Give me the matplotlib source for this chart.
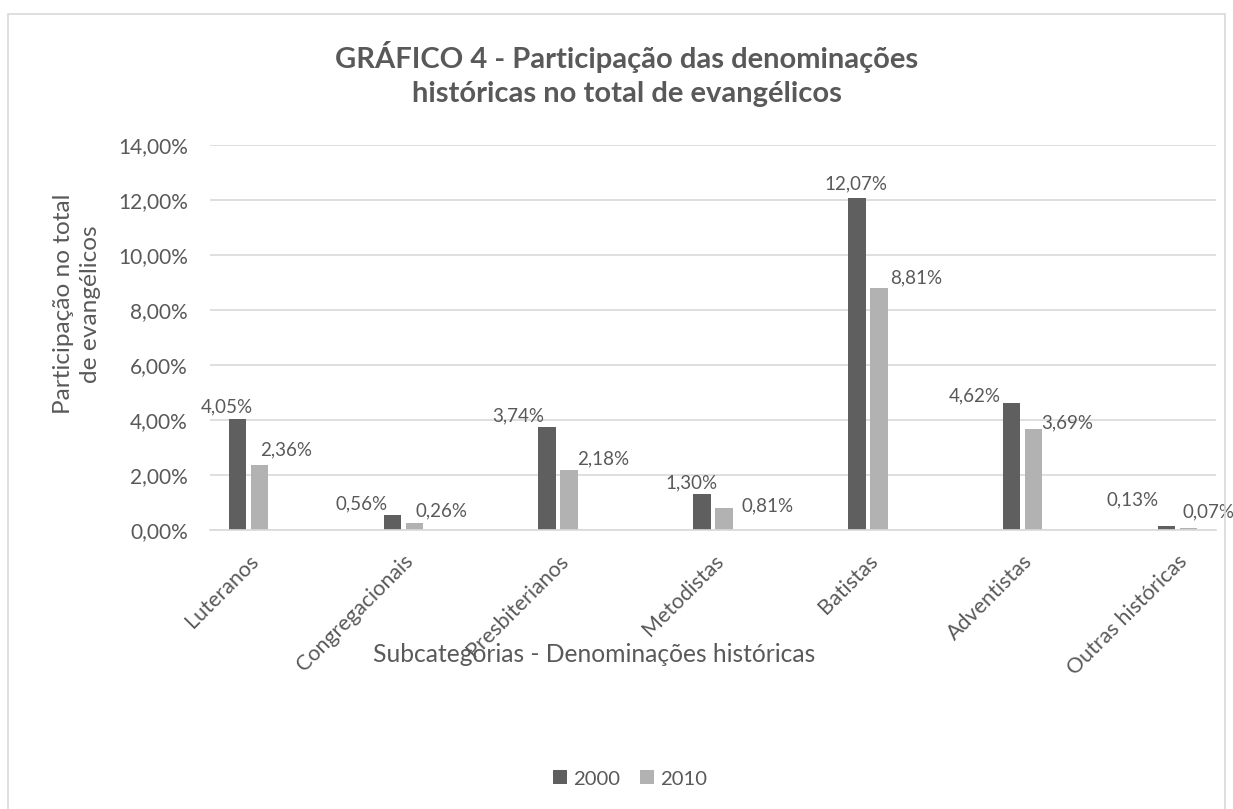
import matplotlib
matplotlib.use("Agg")
import matplotlib.pyplot as plt
from matplotlib.patches import Rectangle
import numpy as np

categorias = ['Luteranos', 'Congregacionais', 'Presbiterianos', 'Metodistas',
              'Batistas', 'Adventistas', 'Outras históricas']
anos = ['2000', '2010']
valores_2000 = [4.05, 0.56, 3.74, 1.30, 12.07, 4.62, 0.13]
valores_2010 = [2.36, 0.26, 2.18, 0.81, 8.81, 3.69, 0.07]

# label nudges in pixels (layout only)
nudge_2000 = [(15, 3), (-5, 2), (-3, 3), (16, 3), (31, 6), (-11, -1), (-8, 18)]
nudge_2010 = [(0, 7), (1, 3), (8, 3), (18, -7), (11, 1), (8, -3), (-6, 8)]

cinza = '#595959'
escuro = '#5f5f5f'
claro = '#b2b2b2'
grade = '#d9d9d9'

plt.rcParams['font.family'] = ['Lato', 'DejaVu Sans']

fig = plt.figure(figsize=(12.33, 8.09), dpi=100)
ax = fig.add_axes([210/1233, 1-530/809, 1006/1233, 385/809])

x = np.arange(len(categorias))
w = 0.113
off = 0.071
ax.bar(x - off, valores_2000, w, color=escuro, label=anos[0], zorder=3)
ax.bar(x + off, valores_2010, w, color=claro, label=anos[1], zorder=3)

def fmt(v):
    return ('%.2f%%' % v).replace('.', ',')

for i in range(len(x)):
    dx, dy = nudge_2000[i]
    ax.annotate(fmt(valores_2000[i]), (x[i] - off, valores_2000[i]),
                xytext=(dx, dy), textcoords='offset pixels',
                ha='right', va='bottom', fontsize=13.5, color=cinza)
    dx, dy = nudge_2010[i]
    ax.annotate(fmt(valores_2010[i]), (x[i] + off, valores_2010[i]),
                xytext=(dx, dy), textcoords='offset pixels',
                ha='left', va='bottom', fontsize=13.5, color=cinza)

ax.set_xlim(-0.25, 6.25)
ax.set_ylim(0, 14)
ax.set_yticks(np.arange(0, 15, 2))
ax.set_yticklabels([fmt(t) for t in np.arange(0, 15, 2)], fontsize=15, color=cinza)
ax.set_xticks(x)
ax.set_xticklabels(categorias, rotation=45, ha='right', rotation_mode='anchor',
                   fontsize=15.5, color=cinza)
ax.tick_params(axis='both', length=0)
ax.tick_params(axis='y', pad=16)
ax.tick_params(axis='x', pad=15)
ax.grid(axis='y', color=grade, linewidth=1.2, zorder=0)
for s in ['top', 'right', 'left']:
    ax.spines[s].set_visible(False)
ax.spines['bottom'].set_color(grade)
ax.spines['bottom'].set_linewidth(1.2)
ax.spines['bottom'].set_zorder(4)

fig.text(77/1233, 1-304/809, 'Participação no total\nde evangélicos', rotation=90,
         ha='center', va='center', fontsize=17.6, color=cinza, linespacing=1.35)
fig.text(594/1233, 1-655/809, 'Subcategorias - Denominações históricas',
         ha='center', va='center', fontsize=17.7, color=cinza)
fig.text(627/1233, 1-74/809, 'GRÁFICO 4 - Participação das denominações\nhistóricas no total de evangélicos',
         ha='center', va='center', fontsize=21, fontweight='bold', color=cinza,
         linespacing=1.35)

fig.legend(loc='center', bbox_to_anchor=(630/1233, 1-779/809), ncol=2, frameon=False,
           handlelength=0.69, handleheight=0.69, handletextpad=0.3, columnspacing=0.95,
           fontsize=14.6, labelcolor=cinza)

fig.patches.append(Rectangle((8/1233, -0.01), 1217/1233, 1-14/809+0.01,
                             transform=fig.transFigure, fill=False,
                             edgecolor=grade, linewidth=1.2))

fig.savefig('out.png', dpi=100, facecolor='white')
